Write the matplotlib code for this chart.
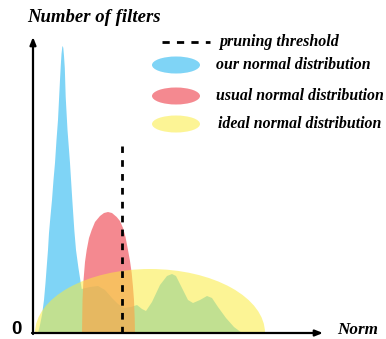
import matplotlib
matplotlib.use("Agg")
import matplotlib.pyplot as plt
from matplotlib.patches import Ellipse

# ---------------- data (x: norm, y: number of filters; arbitrary units) ----
blue_x = [5, 7, 9, 11, 12.5, 13.7, 15, 16, 17.5, 19, 20.5, 22, 23.5, 25, 26, 27, 27.8,
          28.5, 29.3, 29.7, 30.3, 31, 31.8, 32.7, 34.5, 37, 39.3, 41.3, 43, 45.3, 47,
          48.7, 57, 65, 72, 79, 85, 91, 98, 104, 109, 113, 119, 127, 134, 139, 143, 149,
          155, 160, 167, 174, 179, 185, 193, 201, 209]
blue_y = [0, 8, 18, 33, 50, 66, 83, 100, 117, 133, 153, 170, 193, 213, 233, 253, 268,
          279, 286, 287, 285, 277, 265, 236, 203, 170, 133, 103, 83, 66, 55,
          44, 46, 47, 43, 35, 29, 25, 26, 28, 24, 22, 31, 48, 57, 59, 57, 45,
          33, 30, 33, 37, 35, 26, 15, 6, 0]

red_x = [49, 49.5, 50.3, 52, 53.7, 56, 58.7, 62, 67, 71, 75, 79, 83.7, 87, 90, 92.5, 95,
         97, 98.7, 100, 101, 101.7, 102]
red_y = [0, 33, 50, 71, 83, 95, 103, 111, 117, 120, 121, 120, 116, 112, 105, 96, 83, 72,
         60, 46, 33, 15, 0]

yellow_center = 117
yellow_halfwidth = 115
yellow_height = 64

threshold_x = 89
threshold_top = 187

legend_labels = ["pruning threshold", "our normal distribution",
                 "usual normal distribution", "ideal normal distribution"]

# ---------------- figure ----------------
W, H = 386, 339
fig = plt.figure(figsize=(W / 100, H / 100), dpi=100)

def fx(px):
    return px / W

def fy(py):
    return 1 - py / H

x0, x1, y0, y1 = 33, 320, 333, 40
ax = fig.add_axes([fx(x0), fy(y0), fx(x1) - fx(x0), fy(y1) - fy(y0)])
ax.set_xlim(0, x1 - x0)
ax.set_ylim(0, y0 - y1)
ax.axis("off")

blue_c = "#7fd4f6"
red_c = (240 / 255, 90 / 255, 100 / 255)
yel_c = (250 / 255, 236 / 255, 60 / 255)

ax.fill(blue_x, blue_y, color=blue_c, lw=0, zorder=1)
ax.fill(red_x, red_y, color=red_c, alpha=0.715, lw=0, zorder=2)
ax.add_patch(Ellipse((yellow_center, 0), 2 * yellow_halfwidth, 2 * yellow_height,
                     color=yel_c, alpha=0.54, lw=0, zorder=3))
ax.plot([threshold_x, threshold_x], [0, threshold_top], color="black", lw=2,
        dashes=(2.4, 2.6), zorder=4)

# axes arrows
over = fig.add_axes([0, 0, 1, 1])
over.set_xlim(0, W)
over.set_ylim(H, 0)
over.axis("off")
over.patch.set_alpha(0)
arrow = dict(arrowstyle="-|>,head_length=0.45,head_width=0.18", color="black", lw=1.6,
             shrinkA=0, shrinkB=0)
over.annotate("", xy=(33, 37), xytext=(33, 334), arrowprops=arrow)
over.annotate("", xy=(323, 333), xytext=(32, 333), arrowprops=arrow)

serif = dict(family="Liberation Serif", weight="bold", style="italic")
over.text(27, 17, "Number of filters", fontsize=13.5, va="center", ha="left", **serif)
over.text(337, 330, "Norm", fontsize=12.3, va="center", ha="left", **serif)
over.text(16, 329, "0", fontsize=13.5, va="center", ha="center",
          family="Liberation Sans", weight="bold")

# legend
over.plot([162, 210], [42, 42], color="black", lw=2, dashes=(2.6, 2.6))
over.text(219, 42, legend_labels[0], fontsize=11.5, va="center", ha="left", **serif)
for cy, col, a, lab in [(65, blue_c, 1.0, legend_labels[1]),
                        (96, red_c, 0.715, legend_labels[2]),
                        (124, yel_c, 0.54, legend_labels[3])]:
    over.add_patch(Ellipse((176, cy), 48, 17, color=col, alpha=a, lw=0))
    over.text(216 if cy < 110 else 218, cy, lab, fontsize=11.4, va="center", ha="left", **serif)

fig.savefig("out.png", dpi=100)
